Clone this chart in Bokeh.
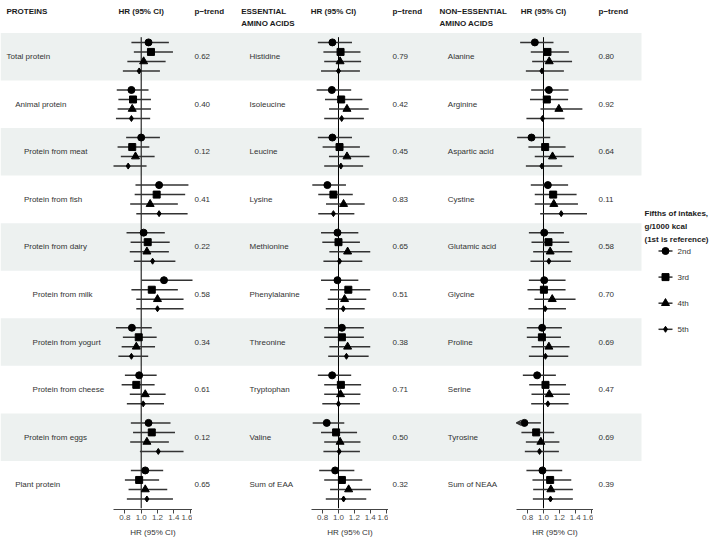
from bokeh.plotting import figure
from bokeh.layouts import row, column
from bokeh.models import (ColumnDataSource, Range1d, LinearAxis, FixedTicker, Spacer,
                          PrintfTickFormatter, Arrow, OpenHead)
from bokeh.core.properties import value
from bokeh.embed import file_html
from bokeh.resources import INLINE

# ---------------- data ----------------
quintiles = ["2nd", "3rd", "4th", "5th"]
ticks = [0.8, 1.0, 1.2, 1.4, 1.6]

protein_labels = ["Total protein", "Animal protein", "Protein from meat", "Protein from fish",
                  "Protein from dairy", "Protein from milk", "Protein from yogurt",
                  "Protein from cheese", "Protein from eggs", "Plant protein"]
protein_level = [0, 1, 2, 2, 2, 3, 3, 3, 2, 1]
protein_hr = [[1.09, 1.12, 1.03, 0.975], [0.88, 0.90, 0.89, 0.88], [1.00, 0.89, 0.93, 0.84],
              [1.22, 1.19, 1.11, 1.22], [1.03, 1.08, 1.07, 1.14], [1.28, 1.13, 1.20, 1.20],
              [0.886, 0.97, 0.94, 0.88], [0.975, 0.94, 1.05, 1.025], [1.09, 1.13, 1.07, 1.21],
              [1.05, 0.975, 1.05, 1.07]]
protein_lo = [[0.88, 0.91, 0.83, 0.775], [0.70, 0.72, 0.71, 0.69], [0.815, 0.71, 0.75, 0.66],
              [0.93, 0.92, 0.865, 0.94], [0.82, 0.87, 0.86, 0.91], [1.005, 0.88, 0.94, 0.94],
              [0.69, 0.775, 0.76, 0.72], [0.80, 0.76, 0.86, 0.824], [0.873, 0.90, 0.865, 0.984],
              [0.873, 0.80, 0.845, 0.824]]
protein_hi = [[1.34, 1.39, 1.30, 1.23], [1.09, 1.12, 1.12, 1.11], [1.23, 1.10, 1.165, 1.066],
              [1.58, 1.54, 1.45, 1.57], [1.29, 1.35, 1.34, 1.42], [1.63, 1.45, 1.52, 1.52],
              [1.13, 1.19, 1.17, 1.086], [1.19, 1.165, 1.30, 1.28], [1.36, 1.415, 1.34, 1.52],
              [1.27, 1.22, 1.32, 1.39]]
protein_p = ["0.62", "0.40", "0.12", "0.41", "0.22", "0.58", "0.34", "0.61", "0.12", "0.65"]

eaa_labels = ["Histidine", "Isoleucine", "Leucine", "Lysine", "Methionine", "Phenylalanine",
              "Threonine", "Tryptophan", "Valine", "Sum of EAA"]
eaa_hr = [[0.923, 1.026, 1.02, 1.00], [0.916, 1.034, 1.107, 1.04], [0.923, 1.013, 1.107, 1.03],
          [0.86, 0.936, 1.064, 0.936], [0.987, 1.00, 1.115, 1.013], [0.987, 1.124, 1.077, 1.06],
          [1.043, 1.043, 1.115, 1.10], [0.92, 1.03, 1.026, 1.00], [0.852, 0.97, 1.02, 1.009],
          [0.958, 1.043, 1.128, 1.064]]
eaa_lo = [[0.74, 0.81, 0.82, 0.78], [0.725, 0.83, 0.88, 0.82], [0.74, 0.80, 0.88, 0.82],
          [0.67, 0.745, 0.843, 0.745], [0.78, 0.796, 0.885, 0.81], [0.78, 0.894, 0.865, 0.84],
          [0.82, 0.82, 0.885, 0.87], [0.74, 0.82, 0.82, 0.796], [0.675, 0.78, 0.82, 0.81],
          [0.757, 0.82, 0.894, 0.84]]
eaa_hi = [[1.17, 1.277, 1.285, 1.27], [1.16, 1.30, 1.38, 1.32], [1.17, 1.27, 1.39, 1.31],
          [1.094, 1.18, 1.33, 1.20], [1.25, 1.27, 1.40, 1.30], [1.25, 1.40, 1.35, 1.33],
          [1.32, 1.32, 1.40, 1.38], [1.16, 1.285, 1.277, 1.27], [1.073, 1.234, 1.277, 1.27],
          [1.20, 1.30, 1.41, 1.35]]
eaa_p = ["0.79", "0.42", "0.45", "0.83", "0.65", "0.51", "0.38", "0.71", "0.50", "0.32"]

neaa_labels = ["Alanine", "Arginine", "Aspartic acid", "Cystine", "Glutamic acid", "Glycine",
               "Proline", "Serine", "Tyrosine", "Sum of NEAA"]
neaa_hr = [[0.891, 1.05, 1.072, 0.98], [1.068, 1.042, 1.194, 0.987], [0.849, 1.021, 1.114, 0.98],
           [1.055, 1.122, 1.13, 1.223], [1.009, 1.063, 1.084, 1.068], [1.009, 1.005, 1.11, 1.021],
           [0.983, 0.98, 1.068, 1.025], [0.92, 1.025, 1.072, 1.055], [0.76, 0.908, 0.967, 0.95],
           [0.987, 1.084, 1.093, 1.088]]
neaa_lo = [[0.706, 0.84, 0.857, 0.778], [0.845, 0.83, 0.962, 0.785], [0.668, 0.81, 0.89, 0.778],
           [0.84, 0.89, 0.89, 0.958], [0.816, 0.849, 0.87, 0.836], [0.816, 0.798, 0.886, 0.81],
           [0.79, 0.79, 0.849, 0.816], [0.74, 0.82, 0.849, 0.845], [0.60, 0.722, 0.778, 0.765],
           [0.785, 0.861, 0.87, 0.866]]
neaa_hi = [[1.126, 1.32, 1.36, 1.257], [1.316, 1.31, 1.49, 1.265], [1.085, 1.278, 1.383, 1.236],
           [1.31, 1.417, 1.434, 1.548], [1.257, 1.324, 1.362, 1.345], [1.278, 1.278, 1.404, 1.283],
           [1.232, 1.22, 1.328, 1.312], [1.156, 1.283, 1.333, 1.316], [0.967, 1.135, 1.20, 1.194],
           [1.236, 1.35, 1.37, 1.37]]
neaa_p = ["0.80", "0.92", "0.64", "0.11", "0.58", "0.70", "0.69", "0.47", "0.69", "0.39"]

# ---------------- style / layout constants ----------------
FONT = "Liberation Sans"
FS = "8px"
BAND = "#edf1f0"
LINE = "#333333"
TXT = "#333333"
HEAD = "#1a1a1a"
MARKERS = ["circle", "square", "triangle", "diamond"]
MSIZE = [7, 7, 8, 6]
OFFS = [-0.3, -0.1, 0.1, 0.3]
AX_MIN, AX_MAX = 0.66, 1.63
ROW_PX = 47.56
W = 709
FRAME_H = 508
N = 10
Y_BOT = N - 0.5
Y_TOP = Y_BOT - FRAME_H / ROW_PX
BAND_RIGHT = 641
# pixel extent of each forest panel (HR 0.66 .. 1.63)
PANEL_PX = [(113, 192), (311, 388), (516, 593)]


def yrow(px):
    return Y_TOP + px / ROW_PX


def hr_range(lpx, rpx):
    s = (rpx - lpx) / (AX_MAX - AX_MIN)
    return Range1d(AX_MIN - lpx / s, AX_MIN + (W - lpx) / s)


p = figure(frame_width=W, frame_height=FRAME_H, x_range=Range1d(0, W),
           y_range=Range1d(Y_BOT, Y_TOP), x_axis_type=None, y_axis_type=None,
           toolbar_location=None, output_backend="svg", min_border=0,
           min_border_left=0, min_border_right=0, min_border_top=0, min_border_bottom=0,
           outline_line_color=None, background_fill_color="white", border_fill_color="white")
p.extra_x_ranges = {f"p{k}": hr_range(*PANEL_PX[k]) for k in range(3)}

# alternating bands
band_rows = list(range(0, N, 2))
p.hbar(y=band_rows, height=1.0, left=0, right=BAND_RIGHT, fill_color=BAND, line_color=None,
       level="underlay")


def txt(x, y, text, bold=False, align="left", color=TXT, size=FS, xoff=0, rng="default"):
    p.text(x=x, y=y, text=text, x_offset=xoff, text_font=value(FONT), text_font_size=size,
           text_font_style="bold" if bold else "normal", text_align=align,
           text_baseline="middle", text_color=color, x_range_name=rng)


def forest(k, hr, lo, hi, head_off):
    rng = f"p{k}"
    p.segment(x0=[1.0], y0=[-0.41], x1=[1.0], y1=[Y_BOT], line_color="black", line_width=1,
              x_range_name=rng)
    ys, est, l, h, mk, sz, ax_, ay_ = [], [], [], [], [], [], [], []
    for i in range(len(hr)):
        for q in range(4):
            ys.append(i + OFFS[q])
            est.append(hr[i][q])
            l.append(max(lo[i][q], AX_MIN))
            h.append(min(hi[i][q], AX_MAX))
            mk.append(MARKERS[q])
            sz.append(MSIZE[q])
            if lo[i][q] < AX_MIN:
                ax_.append(AX_MIN)
                ay_.append(i + OFFS[q])
    src = ColumnDataSource(dict(y=ys, hr=est, lo=l, hi=h, marker=mk, size=sz))
    p.segment(x0="lo", y0="y", x1="hi", y1="y", source=src, line_color=LINE, line_width=1.5,
              x_range_name=rng)
    p.scatter(x="hr", y="y", marker="marker", size="size", source=src,
              fill_color="black", line_color="black", x_range_name=rng)
    if ax_:
        asrc = ColumnDataSource(dict(xs=[a + 0.06 for a in ax_], xe=ax_, y=ay_))
        p.add_layout(Arrow(end=OpenHead(size=5, line_color=LINE, line_width=1.5),
                           x_start="xs", y_start="y", x_end="xe", y_end="y", source=asrc,
                           line_color=LINE, line_width=1.5, x_range_name=rng))
    txt([1.0], [yrow(11)], ["HR (95% CI)"], bold=True, align="center", color=HEAD,
        xoff=head_off, rng=rng)


def col(xp, texts):
    txt([xp] * len(texts), list(range(len(texts))), texts)


def head(xp, yp, t):
    txt([xp], [yrow(yp)], [t], bold=True, color=HEAD)


PT = "p\u2212trend"
# panel 1: proteins
head(6, 11, "PROTEINS")
txt([6 + 8.7 * lv for lv in protein_level], list(range(N)), protein_labels)
forest(0, protein_hr, protein_lo, protein_hi, 0)
head(194, 11, PT)
col(194, protein_p)
# panel 2: essential amino acids
head(240.7, 11, "ESSENTIAL")
head(240.7, 23.3, "AMINO ACIDS")
col(249, eaa_labels)
forest(1, eaa_hr, eaa_lo, eaa_hi, -5)
head(392, 11, PT)
col(392, eaa_p)
# panel 3: non-essential amino acids
head(439, 11, "NON\u2212ESSENTIAL")
head(439, 23.3, "AMINO ACIDS")
col(447.3, neaa_labels)
forest(2, neaa_hr, neaa_lo, neaa_hi, 0)
head(598, 11, PT)
col(598, neaa_p)

# legend (pixel positions converted to rows)
title_lines = ["Fifths of intakes,", "g/1000 kcal", "(1st is reference)"]
for k, t in enumerate(title_lines):
    head(644, 213 + 13 * k, t)
leg_y = [yrow(250.5 + 26.1 * q) for q in range(4)]
p.segment(x0=[658] * 4, y0=leg_y, x1=[672] * 4, y1=leg_y, line_color=LINE, line_width=1.5)
p.scatter(x=[665] * 4, y=leg_y, marker=MARKERS, size=MSIZE, fill_color="black",
          line_color="black")
txt([677] * 4, leg_y, quintiles)


# ---------------- axes (one thin figure per panel) ----------------
def axis_fig(lpx, rpx):
    a = figure(frame_width=rpx - lpx, frame_height=1, x_range=Range1d(AX_MIN, AX_MAX),
               y_range=Range1d(0, 1), x_axis_type=None, y_axis_type=None,
               toolbar_location=None, output_backend="svg", min_border=0,
               min_border_left=0, min_border_right=0, min_border_top=0, min_border_bottom=0,
               outline_line_color=None, background_fill_color="white",
               border_fill_color="white")
    a.segment(x0=[1.0], y0=[0], x1=[1.0], y1=[1], line_color="black", line_width=1)
    ax = LinearAxis(ticker=FixedTicker(ticks=ticks), formatter=PrintfTickFormatter(format="%.1f"),
                    axis_label="HR (95% CI)")
    ax.axis_line_color = "#444444"
    ax.major_tick_line_color = "#444444"
    ax.major_tick_out = 4
    ax.major_tick_in = 0
    ax.minor_tick_line_color = None
    ax.major_label_standoff = 1
    ax.axis_label_standoff = 5
    ax.major_label_text_font = FONT
    ax.major_label_text_font_size = FS
    ax.major_label_text_color = "#4d4d4d"
    ax.axis_label_text_font = FONT
    ax.axis_label_text_font_size = FS
    ax.axis_label_text_font_style = "normal"
    ax.axis_label_text_color = TXT
    a.add_layout(ax, "below")
    return a


axes_row = []
prev = 0
for lpx, rpx in PANEL_PX:
    axes_row.append(Spacer(width=lpx - prev, height=1))
    axes_row.append(axis_fig(lpx, rpx))
    prev = rpx

layout = column(p, row(*axes_row, spacing=0), spacing=0)
open("out.html", "w").write(file_html(layout, INLINE))
